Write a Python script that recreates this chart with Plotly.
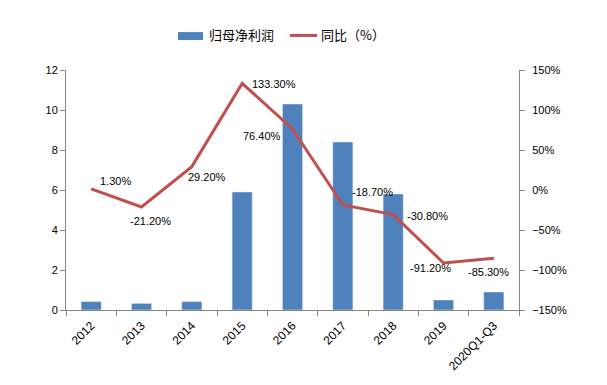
import plotly.graph_objects as go

categories = ["2012", "2013", "2014", "2015", "2016", "2017", "2018", "2019", "2020Q1-Q3"]
profit = [0.42, 0.33, 0.42, 5.9, 10.3, 8.4, 5.8, 0.5, 0.9]
yoy = [1.3, -21.2, 29.2, 133.3, 76.4, -18.7, -30.8, -91.2, -85.3]
yoy_labels = ["1.30%", "-21.20%", "29.20%", "133.30%", "76.40%", "-18.70%", "-30.80%", "-91.20%", "-85.30%"]
label_shift = [(24, 8), (9, -14), (15, -10), (32, -1), (-31, -7), (30, 13), (34, -1), (-13, -5), (-5, -14)]
legend_names = ["归母净利润", "同比（%）"]

bar_color = "#4F81BD"
line_color = "#C0504D"
font_main = "Tahoma, Liberation Sans, Arial, Noto Sans CJK SC"
font_cjk = "Noto Sans CJK SC"

fig = go.Figure()
fig.add_trace(go.Bar(x=categories, y=profit, name=legend_names[0], marker_color=bar_color, yaxis="y"))
fig.add_trace(go.Scatter(x=categories, y=yoy, name=legend_names[1], mode="lines",
                         line=dict(color=line_color, width=3), yaxis="y2"))

for i, (v, t, (dx, dy)) in enumerate(zip(yoy, yoy_labels, label_shift)):
    fig.add_annotation(x=i, y=v, xref="x", yref="y2", text=t, showarrow=False,
                       xshift=dx, yshift=dy, font=dict(size=11, color="#000000", family=font_main))

# custom legend (wide swatches like the reference)
fig.add_shape(type="rect", xref="paper", yref="paper", x0=0.2472, x1=0.3024, y0=1.125, y1=1.158,
              fillcolor=bar_color, line=dict(width=0))
fig.add_shape(type="line", xref="paper", yref="paper", x0=0.4945, x1=0.554, y0=1.144, y1=1.144,
              line=dict(color=line_color, width=3))
fig.add_annotation(xref="paper", yref="paper", x=0.3113, y=1.146, xanchor="left", yanchor="middle",
                   text=legend_names[0], showarrow=False, font=dict(size=13, family=font_cjk, color="#000"))
fig.add_annotation(xref="paper", yref="paper", x=0.5585, y=1.146, xanchor="left", yanchor="middle",
                   text=legend_names[1], showarrow=False, font=dict(size=13, family=font_cjk, color="#000"))

axis_common = dict(showgrid=False, zeroline=False, showline=True, linecolor="#868686", linewidth=1,
                   ticks="outside", ticklen=5, tickcolor="#868686",
                   tickfont=dict(size=11, color="#000000", family=font_main))
# page body adds an 8px margin, so the figure is sized/offset to compensate
fig.update_layout(
    width=599, height=377,
    margin=dict(l=58, r=88, t=62, b=75),
    plot_bgcolor="white", paper_bgcolor="white",
    bargap=0.6,
    showlegend=False,
    font=dict(family=font_main, size=11, color="#000000"),
    xaxis=dict(**axis_common, type="category", range=[-0.5, len(categories) - 0.5],
               tickangle=-45, tickson="boundaries", automargin=False),
    yaxis=dict(**axis_common, range=[0, 12], dtick=2, automargin=False),
    yaxis2=dict(**axis_common, range=[-150, 150], dtick=50, ticksuffix="%", overlaying="y", side="right",
                automargin=False, ticklabelstandoff=5),
)
fig.update_xaxes(tickfont=dict(size=12), ticklabelstandoff=3)
fig.write_html("out.html")
